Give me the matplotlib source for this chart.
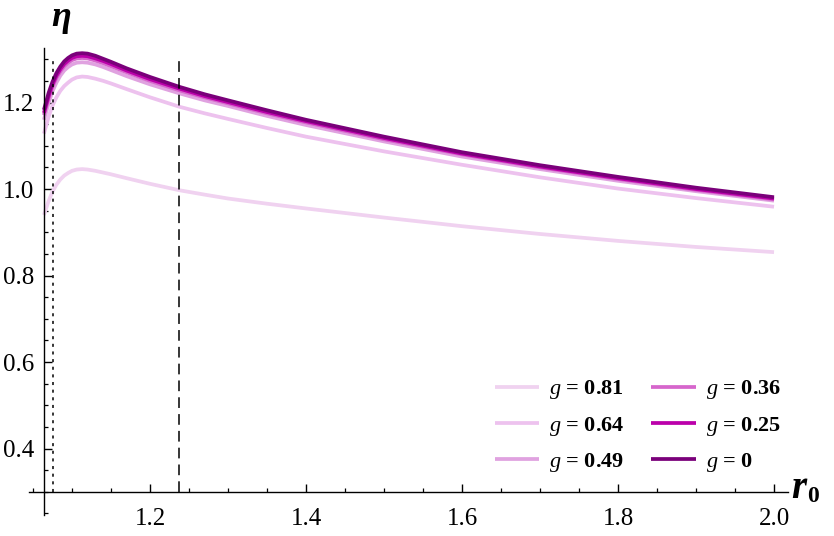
"""
Efficiency eta against r0 for several g values
"""

import numpy as np
import matplotlib
matplotlib.use("Agg")
from matplotlib import pyplot as plt
from matplotlib.ticker import FixedLocator, FormatStrFormatter

plt.rcParams["font.family"] = "serif"
plt.rcParams["font.serif"] = ["Liberation Serif", "DejaVu Serif"]
plt.rcParams["mathtext.fontset"] = "custom"
plt.rcParams["mathtext.rm"] = "Liberation Serif"
plt.rcParams["mathtext.it"] = "Liberation Serif:italic"
plt.rcParams["mathtext.bf"] = "Liberation Serif:bold"

SERIF = "Liberation Serif"

# data
r0 = [1.064, 1.07, 1.075, 1.08, 1.085, 1.09, 1.095, 1.10, 1.106, 1.113,
      1.12, 1.13, 1.14, 1.15, 1.17, 1.2, 1.238, 1.27, 1.3, 1.35, 1.4,
      1.5, 1.6, 1.7, 1.8, 1.9, 2.0]

eta_081 = [0.940, 0.972, 0.994, 1.010, 1.022, 1.031, 1.037, 1.042, 1.045, 1.046,
           1.045, 1.042, 1.038, 1.034, 1.025, 1.012, 0.997, 0.987, 0.978, 0.966, 0.955,
           0.934, 0.914, 0.896, 0.880, 0.866, 0.854]
eta_064 = [1.128, 1.167, 1.193, 1.212, 1.227, 1.238, 1.246, 1.253, 1.258, 1.260,
           1.259, 1.255, 1.250, 1.244, 1.231, 1.212, 1.190, 1.175, 1.162, 1.141, 1.121,
           1.087, 1.056, 1.027, 1.001, 0.979, 0.959]
eta_049 = [1.160, 1.199, 1.226, 1.246, 1.262, 1.274, 1.282, 1.288, 1.292, 1.293,
           1.292, 1.288, 1.282, 1.275, 1.261, 1.242, 1.221, 1.205, 1.192, 1.169, 1.148,
           1.110, 1.075, 1.046, 1.019, 0.995, 0.973]
eta_036 = [1.171, 1.210, 1.237, 1.257, 1.272, 1.284, 1.292, 1.298, 1.302, 1.303,
           1.302, 1.297, 1.291, 1.284, 1.270, 1.250, 1.228, 1.212, 1.198, 1.175, 1.154,
           1.115, 1.080, 1.050, 1.023, 0.998, 0.976]
eta_025 = [1.176, 1.215, 1.242, 1.262, 1.277, 1.289, 1.297, 1.303, 1.307, 1.308,
           1.307, 1.302, 1.296, 1.289, 1.274, 1.254, 1.232, 1.215, 1.201, 1.178, 1.157,
           1.118, 1.082, 1.052, 1.025, 1.000, 0.978]
eta_0 = [1.183, 1.222, 1.248, 1.268, 1.283, 1.295, 1.303, 1.309, 1.313, 1.314,
         1.313, 1.308, 1.301, 1.294, 1.279, 1.259, 1.236, 1.219, 1.205, 1.182, 1.160,
         1.121, 1.085, 1.055, 1.028, 1.003, 0.981]

g_labels = ["0.81", "0.64", "0.49", "0.36", "0.25", "0"]
colors = ["#F0D2F0", "#EDC2EE", "#E0A2E0", "#D666CC", "#BB00AA", "#7A007A"]

x_dotted = 1.075
x_dashed = 1.2375

x_major = [1.2, 1.4, 1.6, 1.8, 2.0]
y_major = [0.4, 0.6, 0.8, 1.0, 1.2]


def main():
    fig = plt.figure(figsize=(8.34, 5.36), dpi=100)
    ax = fig.add_axes([0, 0, 1, 1])
    ax.patch.set_alpha(0)

    series = [eta_081, eta_064, eta_049, eta_036, eta_025, eta_0]
    for eta, lab, col in zip(series, g_labels, colors):
        ax.plot(r0, eta, color=col, linewidth=2.7,
                label=r"$g$" + " = " + lab, solid_capstyle="butt")

    ax.plot([x_dotted, x_dotted], [0.3, 1.30], color="black",
            linewidth=1.1, linestyle=(0, (2, 3)))
    ax.plot([x_dashed, x_dashed], [0.3, 1.305], color="black",
            linewidth=1.1, linestyle=(0, (7, 4)))

    ax.set_xlim(1.00769, 2.0769)
    ax.set_ylim(0.1977, 1.437)

    for side in ["top", "right"]:
        ax.spines[side].set_visible(False)
    ax.spines["left"].set_position(("data", 1.0641))
    ax.spines["left"].set_bounds(0.246, 1.326)
    ax.spines["bottom"].set_position(("data", 0.3))
    ax.spines["bottom"].set_bounds(1.045, 2.018)
    for side in ["left", "bottom"]:
        ax.spines[side].set_linewidth(1.0)

    x_minor = [round(1.05 + 0.05 * i, 2) for i in range(20)]
    x_minor = [v for v in x_minor if v not in x_major]
    y_minor = [round(0.25 + 0.05 * i, 2) for i in range(22)]
    y_minor = [v for v in y_minor if v not in y_major]
    ax.xaxis.set_major_locator(FixedLocator(x_major))
    ax.xaxis.set_minor_locator(FixedLocator(x_minor))
    ax.yaxis.set_major_locator(FixedLocator(y_major))
    ax.yaxis.set_minor_locator(FixedLocator(y_minor))
    ax.xaxis.set_major_formatter(FormatStrFormatter("%.1f"))
    ax.yaxis.set_major_formatter(FormatStrFormatter("%.1f"))

    ax.tick_params(which="major", direction="in", length=5.5, width=1.0,
                   labelsize=18)
    ax.tick_params(which="minor", direction="in", length=3, width=0.9)
    ax.tick_params(axis="x", which="major", pad=12)
    ax.tick_params(axis="y", which="major", pad=7)
    for lbl in ax.get_xticklabels() + ax.get_yticklabels():
        lbl.set_fontfamily(SERIF)

    fig.text(61 / 834, 1 - 18 / 536, "η", fontsize=26, fontweight="bold",
             style="italic", family=SERIF, ha="center", va="center")
    fig.text(799 / 834, 1 - 488 / 536, "r", fontsize=28, fontweight="bold",
             style="italic", family=SERIF, ha="center", va="center")
    fig.text(813 / 834, 1 - 496 / 536, "0", fontsize=17, fontweight="bold",
             family=SERIF, ha="center", va="center")

    ax.legend(ncol=2, loc="lower left", bbox_to_anchor=(495 / 834, 1 - 474 / 536),
              bbox_transform=fig.transFigure, frameon=False,
              prop={"family": SERIF, "size": 16, "weight": "bold"},
              handlelength=2.0, handletextpad=0.45, columnspacing=1.2,
              labelspacing=0.6, borderpad=0, borderaxespad=0)

    fig.savefig("out.png", dpi=100)


if __name__ == "__main__":
    main()
